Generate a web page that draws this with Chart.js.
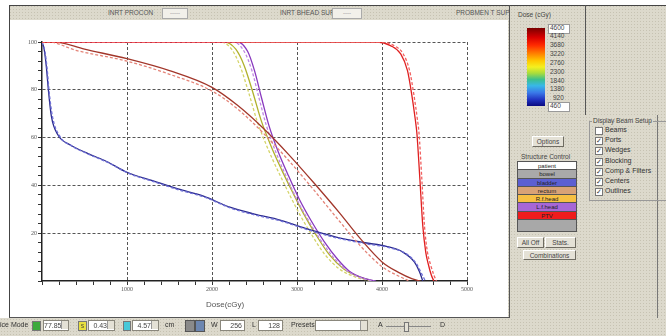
<!DOCTYPE html>
<html>
<head>
<meta charset="utf-8">
<script src="https://cdn.jsdelivr.net/npm/chart.js@4.4.1/dist/chart.umd.min.js"></script>
<style>
  html, body { margin: 0; padding: 0; background: #fff; }
  body { width: 666px; height: 336px; position: relative; overflow: hidden;
         font-family: "Liberation Sans", Arial, sans-serif; font-size: 7px; color: #333; }
  .a { position: absolute; white-space: nowrap; }
  .beige { background-color: #dcd9cc;
           background-image: radial-gradient(#c6c2b2 0.7px, transparent 0.8px);
           background-size: 3px 3px; }
  .btn { position: absolute; background: #e4e1d6; border: 1px solid; border-color: #fff #6f6c62 #6f6c62 #fff;
         text-align: center; font-size: 6.5px; line-height: 9px; box-sizing: border-box; color: #444; }
  .fld { position: absolute; background: #fff; border: 1px solid #8a877c; box-sizing: border-box;
         text-align: right; font-size: 7px; line-height: 9px; padding-right: 7px; color: #444; }
  .fld i { position: absolute; right: 0; top: 0; width: 6px; height: 8px; background: #e4e1d6; border-left: 1px solid #999; }
  .cb { position: absolute; width: 6px; height: 6px; background: #fff; border: 1px solid #777; font-size: 7px; line-height: 6px; color: #333; }
  .row { height: 8.3px; line-height: 8.3px; text-align: center; font-size: 6px; border-bottom: 1px solid #555; box-sizing: border-box; color: #222; }
  .cl { position: absolute; left: 550px; font-size: 6.5px; color: #444; }
</style>
</head>
<body>

<!-- window frame -->
<div class="a beige" style="left:9px;top:5px;width:657px;height:331px;"></div>
<div class="a beige" style="left:0;top:318px;width:666px;height:18px;"></div>
<div class="a" style="left:9px;top:5px;width:657px;height:1px;background:#444;"></div>
<div class="a" style="left:9px;top:5px;width:1px;height:313px;background:#444;"></div>

<!-- header bar of the DVH window -->
<div class="a" style="left:108px;top:9px;font-size:6.5px;color:#555;">INRT PROCON</div>
<div class="a" style="left:162px;top:8px;width:24px;height:9px;background:#f2f0ea;border:1px solid #aaa;font-size:6px;line-height:9px;color:#888;text-align:center;">-----</div>
<div class="a" style="left:280px;top:9px;font-size:6.5px;color:#555;">INRT BHEAD SUP</div>
<div class="a" style="left:332px;top:8px;width:28px;height:9px;background:#f2f0ea;border:1px solid #aaa;font-size:6px;line-height:9px;color:#888;text-align:center;">----</div>
<div class="a" style="left:456px;top:9px;font-size:6.5px;color:#555;">PROBMEN T SUP</div>

<!-- chart panel -->
<div class="a" style="left:10px;top:20px;width:498px;height:297px;background:#fff;"></div>
<div class="a" style="left:509px;top:5px;width:1px;height:313px;background:#555;"></div>
<div class="a" style="left:9px;top:317px;width:501px;height:1px;background:#555;"></div>
<canvas id="dvh" class="a" style="left:10px;top:20px;" width="498" height="296"></canvas>
<div class="a" style="left:206px;top:300px;font-size:8px;color:#555;">Dose(cGy)</div>

<!-- dose colour bar -->
<div class="a" style="left:518px;top:11px;font-size:6.5px;color:#444;">Dose (cGy)</div>
<div class="a" style="left:527px;top:28px;width:18px;height:78px;
  background:linear-gradient(#7a0000 0%, #d80000 12%, #ff2a00 22%, #ff7a00 32%, #ffc800 42%, #f4f020 50%, #a8dc3c 58%, #3cc08c 66%, #38b8e8 74%, #3a78e8 83%, #2032c0 92%, #0a0a80 100%);"></div>
<div class="a" style="left:548px;top:24px;width:20px;height:8px;background:#fff;border:1px solid #999;"></div>
<div class="a" style="left:548px;top:102px;width:20px;height:8px;background:#fff;border:1px solid #999;"></div>
<div class="cl" style="top:24px;">4600</div>
<div class="cl" style="top:32px;">4140</div>
<div class="cl" style="top:41px;">3680</div>
<div class="cl" style="top:50px;">3220</div>
<div class="cl" style="top:59px;">2760</div>
<div class="cl" style="top:68px;">2300</div>
<div class="cl" style="top:77px;">1840</div>
<div class="cl" style="top:85px;">1380</div>
<div class="cl" style="top:94px;left:553px;">920</div>
<div class="cl" style="top:102px;">460</div>
<div class="a" style="left:585px;top:5px;width:1px;height:110px;background:#555;"></div>
<div class="a" style="left:657px;top:115px;width:1px;height:203px;background:#777;"></div>

<!-- controls -->
<div class="btn" style="left:532px;top:136px;width:32px;height:11px;">Options</div>

<div class="a" style="left:589px;top:121px;width:80px;height:78px;border:1px solid #999;"></div>
<div class="a beige" style="left:592px;top:117px;font-size:6.5px;color:#444;padding:0 1px;">Display Beam Setup</div>
<div class="cb" style="left:595px;top:127px;"></div><div class="a" style="left:605px;top:126px;">Beams</div>
<div class="cb" style="left:595px;top:137px;">&#10003;</div><div class="a" style="left:605px;top:136px;">Ports</div>
<div class="cb" style="left:595px;top:147px;">&#10003;</div><div class="a" style="left:605px;top:146px;">Wedges</div>
<div class="cb" style="left:595px;top:158px;">&#10003;</div><div class="a" style="left:605px;top:157px;">Blocking</div>
<div class="cb" style="left:595px;top:168px;">&#10003;</div><div class="a" style="left:605px;top:167px;">Comp &amp; Filters</div>
<div class="cb" style="left:595px;top:178px;">&#10003;</div><div class="a" style="left:605px;top:177px;">Centers</div>
<div class="cb" style="left:595px;top:188px;">&#10003;</div><div class="a" style="left:605px;top:187px;">Outlines</div>

<div class="a" style="left:521px;top:153px;font-size:6.5px;color:#444;">Structure Control</div>
<div class="a" style="left:517px;top:161px;width:60px;height:71px;border:1px solid #555;background:#a8a8a8;box-sizing:border-box;">
  <div class="row" style="background:#fff;">patient</div>
  <div class="row" style="background:#a9a9a9;">bowel</div>
  <div class="row" style="background:#5b5fd2;">bladder</div>
  <div class="row" style="background:#d9a276;">rectum</div>
  <div class="row" style="background:#f7c043;">R.f.head</div>
  <div class="row" style="background:#a767d6;">L.f.head</div>
  <div class="row" style="background:#f01c1c;">PTV</div>
</div>
<div class="btn" style="left:517px;top:237px;width:27px;height:11px;">All Off</div>
<div class="btn" style="left:545px;top:237px;width:31px;height:11px;">Stats.</div>
<div class="btn" style="left:523px;top:250px;width:53px;height:10px;">Combinations</div>

<!-- bottom toolbar -->
<div class="a" style="left:0;top:321px;">ice Mode</div>
<div class="a" style="left:32px;top:321px;width:7px;height:8px;background:#3caa3c;border:1px solid #777;"></div>
<div class="fld" style="left:43px;top:320px;width:26px;height:11px;">77.85<i></i></div>
<div class="a" style="left:78px;top:321px;width:7px;height:8px;background:#e8e040;border:1px solid #777;font-size:5px;line-height:8px;text-align:center;">S</div>
<div class="fld" style="left:88px;top:320px;width:27px;height:11px;">0.43<i></i></div>
<div class="a" style="left:123px;top:321px;width:6px;height:8px;background:#48c8d8;border:1px solid #777;"></div>
<div class="fld" style="left:132px;top:320px;width:27px;height:11px;">4.57<i></i></div>
<div class="a" style="left:165px;top:321px;">cm</div>
<div class="a" style="left:185px;top:320px;width:8px;height:10px;background:#8a8a8a;border:1px solid #555;"></div>
<div class="a" style="left:195px;top:320px;width:8px;height:10px;background:#6c86b0;border:1px solid #555;"></div>
<div class="a" style="left:211px;top:321px;">W</div>
<div class="fld" style="left:220px;top:320px;width:25px;height:11px;padding-right:2px;">256</div>
<div class="a" style="left:252px;top:321px;">L</div>
<div class="fld" style="left:258px;top:320px;width:25px;height:11px;padding-right:2px;">128</div>
<div class="a" style="left:291px;top:321px;">Presets</div>
<div class="fld" style="left:315px;top:320px;width:53px;height:11px;"><i style="height:9px;"></i></div>
<div class="a" style="left:378px;top:321px;">A</div>
<div class="a" style="left:386px;top:326px;width:45px;height:1px;background:#888;"></div>
<div class="a" style="left:404px;top:322px;width:3px;height:8px;background:#e4e1d6;border:1px solid #777;"></div>
<div class="a" style="left:440px;top:321px;">D</div>

<script>
// DVH curves: dose (cGy) and volume (%)
const ptvDoseA = [0, 3950, 4100, 4220, 4300, 4350, 4390, 4410, 4445, 4480, 4515, 4545, 4580, 4610];
const ptvVolA  = [100, 100, 98.5, 95, 88, 78, 68, 62, 43, 23, 12, 7, 2.5, 0];
const ptvDoseB = [0, 4000, 4140, 4250, 4325, 4375, 4415, 4435, 4468, 4500, 4535, 4570, 4610, 4640];
const ptvVolB  = [100, 100, 98.5, 95, 88, 78, 68, 62, 43, 23, 12, 7, 2.5, 0];

const bladderDoseA = [0, 25, 50, 75, 110, 190, 330, 530, 760, 1000, 1300, 1600, 1900, 2200, 2500, 2800, 3100, 3450, 3800, 4050, 4250, 4380, 4440, 4480];
const bladderVolA  = [100, 97, 90, 80, 69, 61, 57, 53.5, 50, 45.5, 42, 38.5, 35.5, 31, 28, 25.5, 22, 18.5, 16, 14.5, 12, 8, 4, 0];
const bladderDoseB = [0, 35, 60, 85, 125, 210, 350, 550, 780, 1020, 1320, 1620, 1920, 2220, 2520, 2820, 3120, 3470, 3820, 4080, 4280, 4400, 4460, 4510];
const bladderVolB  = [100, 96, 89, 79, 68.5, 60.5, 56.5, 53, 49.5, 45, 41.5, 38, 35, 30.5, 27.5, 25, 21.5, 18, 15.5, 14, 11.5, 7.5, 3.5, 0];

const rectumDoseA = [0, 150, 500, 1000, 1500, 2000, 2300, 2600, 2900, 3200, 3500, 3750, 4000, 4200, 4350, 4450];
const rectumVolA  = [100, 100, 97, 93, 88, 81, 73.5, 64, 53, 41, 28.5, 17.5, 8, 3.5, 1, 0];
const rectumDoseB = [0, 80, 400, 1000, 1500, 2000, 2300, 2600, 2900, 3200, 3500, 3750, 4000, 4200, 4320];
const rectumVolB  = [100, 100, 96.5, 92, 86.5, 79.5, 72, 62, 50.5, 38, 25, 14.5, 6, 2, 0];

const rHeadDoseA = [0, 2150, 2280, 2380, 2480, 2580, 2700, 2820, 2950, 3080, 3220, 3380, 3550, 3750, 3900];
const rHeadVolA  = [100, 100, 97, 90, 79, 67, 56, 46.5, 37, 28, 19.5, 11, 5, 1.5, 0];
const rHeadDoseB = [0, 2100, 2230, 2330, 2430, 2530, 2650, 2770, 2900, 3030, 3170, 3330, 3500, 3700, 3870];
const rHeadVolB  = [100, 100, 97, 90, 79, 67, 56, 46.5, 37, 28, 19.5, 11, 5, 1.5, 0];

const lHeadDoseA = [0, 2300, 2420, 2500, 2580, 2670, 2780, 2900, 3030, 3170, 3320, 3480, 3620, 3800, 3930];
const lHeadVolA  = [100, 100, 96, 88, 77, 65, 54, 44, 34, 25, 16.5, 9, 4, 1, 0];
const lHeadDoseB = [0, 2250, 2380, 2470, 2550, 2640, 2750, 2870, 3000, 3140, 3290, 3450, 3600, 3780, 3910];
const lHeadVolB  = [100, 100, 96, 88, 77, 65, 54, 44, 34, 25, 16.5, 9, 4, 1, 0];

// first entry is drawn on top
const curves = [
  { label: "PTV",      dose: ptvDoseB,     vol: ptvVolB,     color: "#f26060", dash: [3, 2] },
  { label: "PTV",      dose: ptvDoseA,     vol: ptvVolA,     color: "#e02020", dash: [] },
  { label: "rectum",   dose: rectumDoseB,  vol: rectumVolB,  color: "#e48478", dash: [3, 2] },
  { label: "rectum",   dose: rectumDoseA,  vol: rectumVolA,  color: "#a2362a", dash: [] },
  { label: "bladder",  dose: bladderDoseB, vol: bladderVolB, color: "#7070d8", dash: [3, 2] },
  { label: "bladder",  dose: bladderDoseA, vol: bladderVolA, color: "#2a2a8c", dash: [] },
  { label: "L.f.head", dose: lHeadDoseB,   vol: lHeadVolB,   color: "#c088e4", dash: [3, 2] },
  { label: "L.f.head", dose: lHeadDoseA,   vol: lHeadVolA,   color: "#8838be", dash: [] },
  { label: "R.f.head", dose: rHeadDoseB,   vol: rHeadVolB,   color: "#d4d468", dash: [3, 2] },
  { label: "R.f.head", dose: rHeadDoseA,   vol: rHeadVolA,   color: "#b0b02c", dash: [] }
];

const tickFont = { family: "Liberation Serif", size: 6 };

new Chart(document.getElementById("dvh"), {
  type: "line",
  data: {
    datasets: curves.map(c => ({
      label: c.label,
      data: c.dose.map((d, i) => ({ x: d, y: c.vol[i] })),
      borderColor: c.color,
      borderWidth: 1.3,
      borderDash: c.dash,
      pointRadius: 0,
      cubicInterpolationMode: "monotone",
      fill: false
    }))
  },
  options: {
    responsive: false,
    animation: false,
    layout: { padding: { top: 22, right: 41, left: 0, bottom: 0 } },
    plugins: { legend: { display: false }, tooltip: { enabled: false } },
    scales: {
      x: {
        type: "linear",
        min: 0, max: 5000,
        afterFit: s => { s.height = 35; },
        ticks: {
          stepSize: 200, autoSkip: false, maxRotation: 0, padding: 1,
          color: "#555", font: tickFont,
          callback: v => (v % 1000 === 0 && v > 0) ? String(v) : ""
        },
        grid: {
          color: c => (c.tick && c.tick.value % 1000 === 0 && c.tick.value > 0) ? "#555" : "rgba(0,0,0,0)",
          tickColor: "#333", tickLength: 4, lineWidth: 1
        },
        border: { display: true, color: "#222", width: 1.5, dash: [3, 2] }
      },
      y: {
        min: 0, max: 100,
        afterFit: s => { s.width = 32; },
        ticks: {
          stepSize: 4, autoSkip: false, padding: 1,
          color: "#555", font: tickFont,
          callback: v => (v % 20 === 0 && v > 0) ? String(v) : ""
        },
        grid: {
          color: c => (c.tick && c.tick.value % 20 === 0 && c.tick.value > 0) ? "#555" : "rgba(0,0,0,0)",
          tickColor: "#333", tickLength: 4, lineWidth: 1
        },
        border: { display: true, color: "#222", width: 1.5, dash: [3, 2] }
      }
    }
  }
});
</script>
</body>
</html>
